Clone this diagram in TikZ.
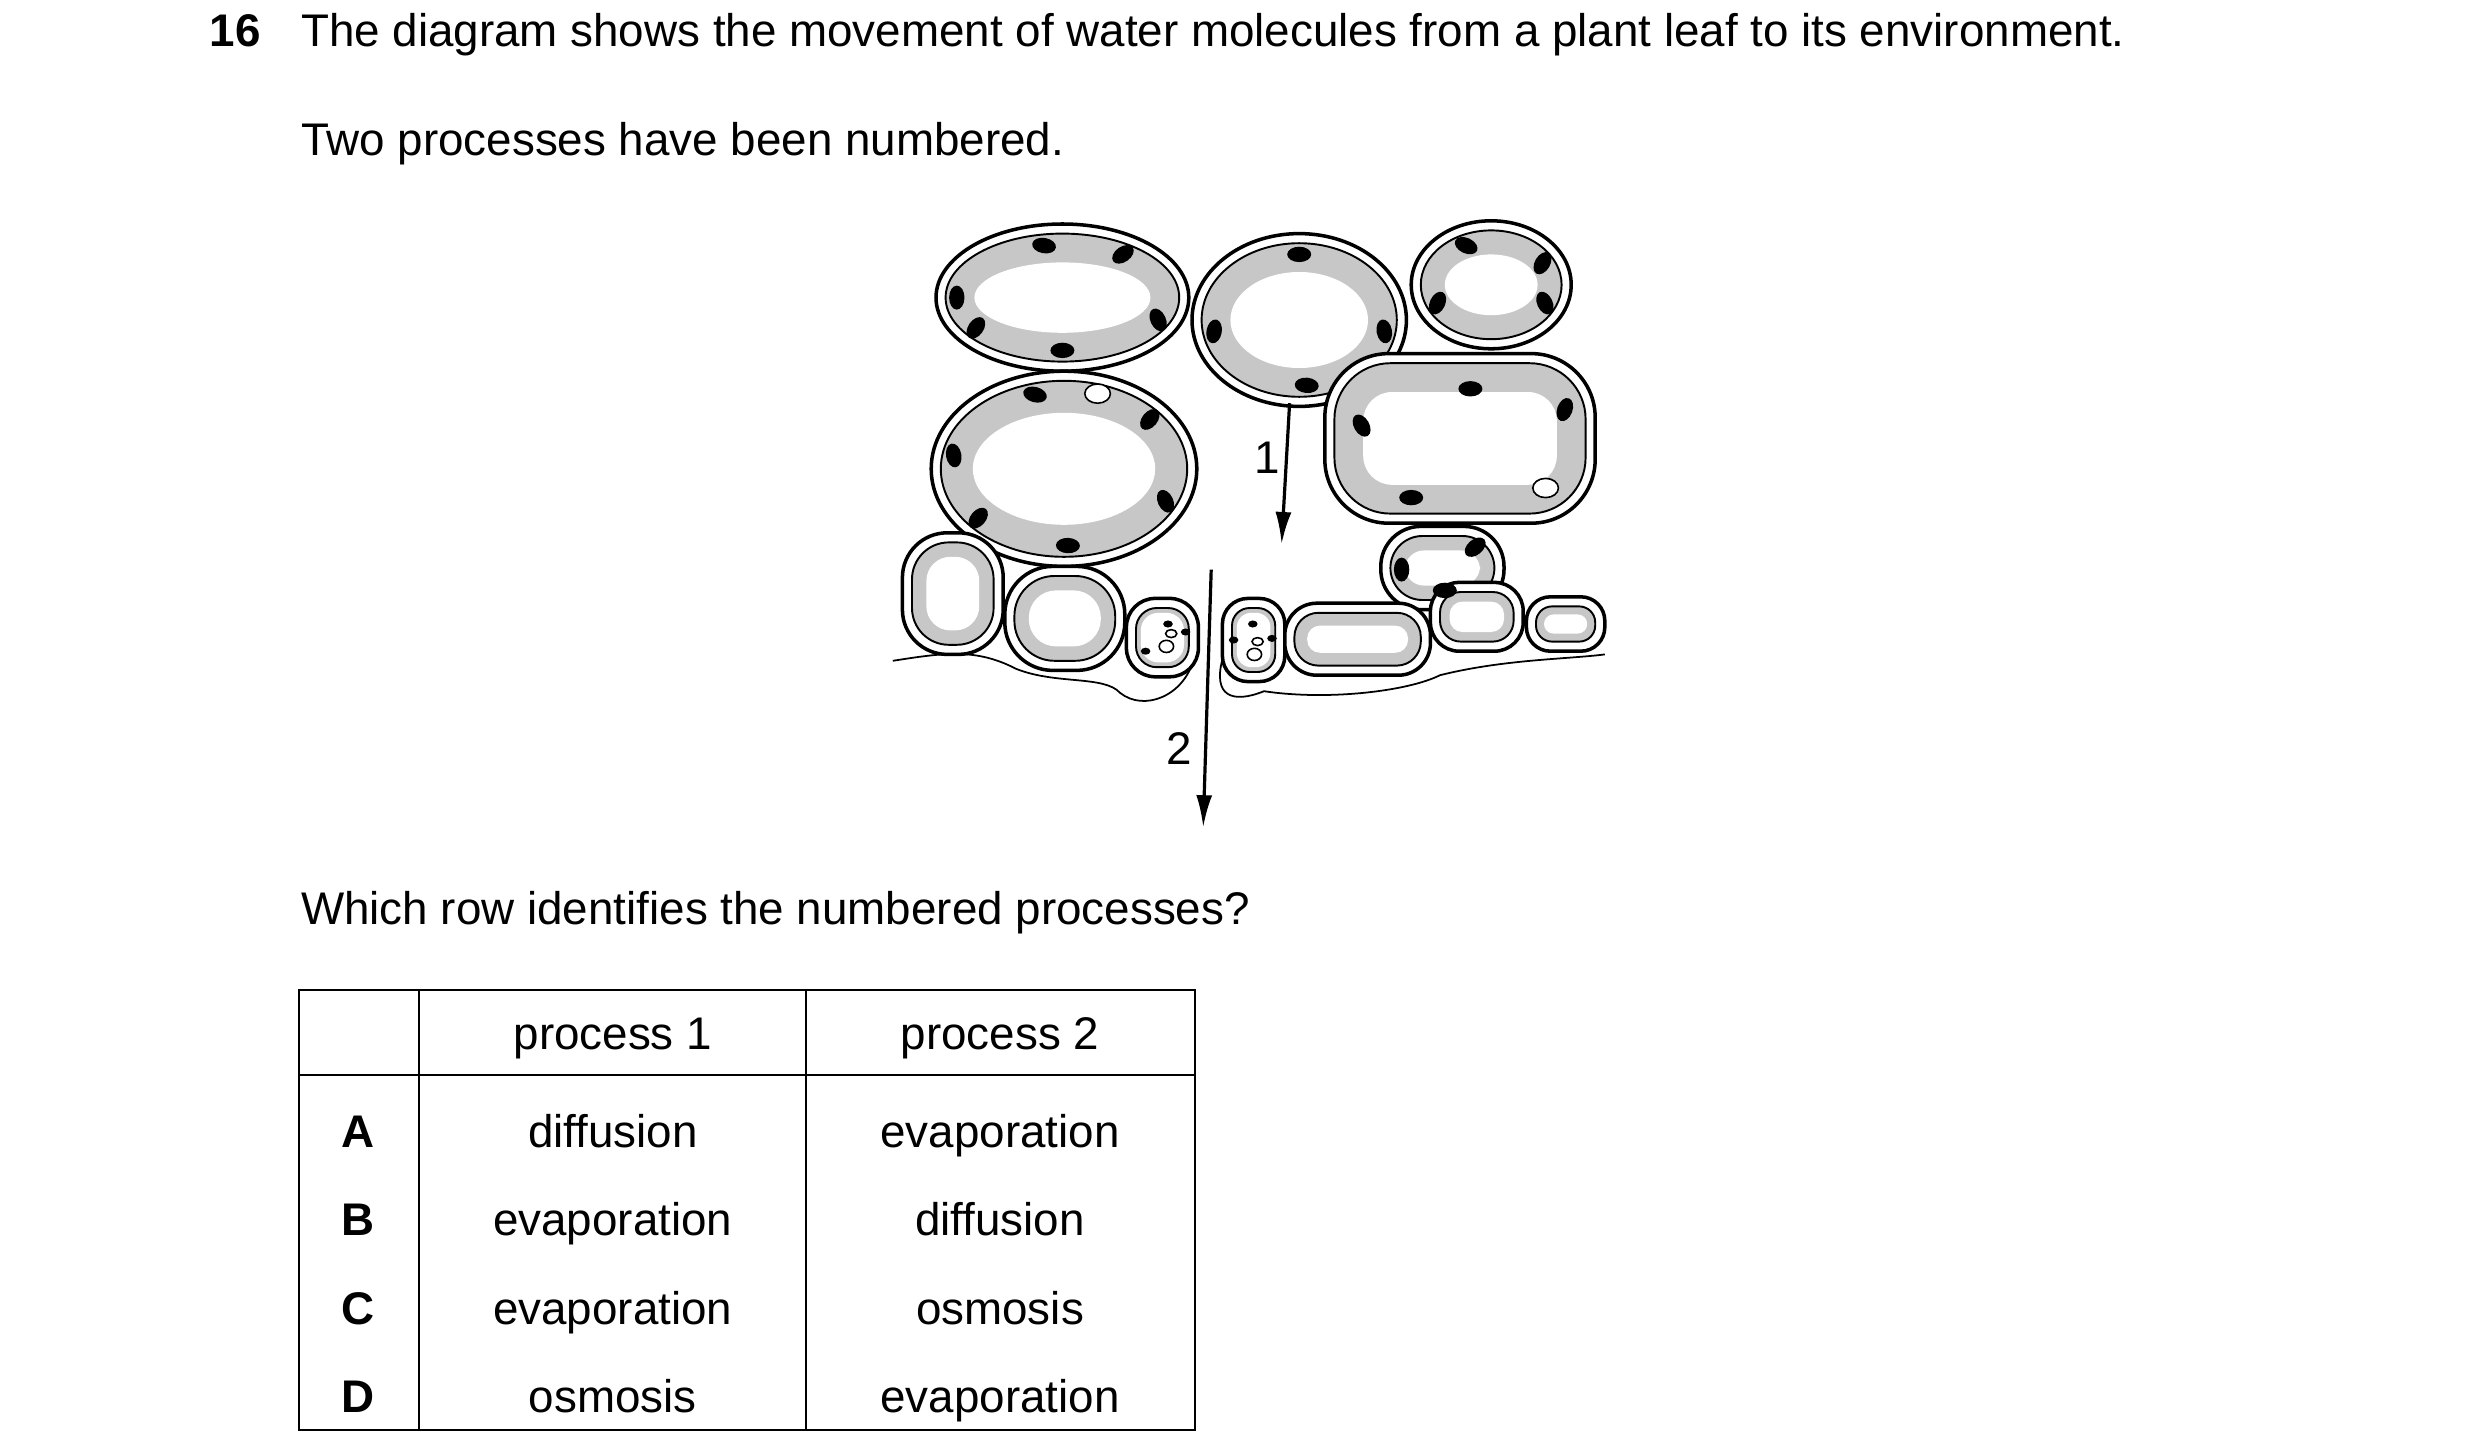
\documentclass[tikz,border=0pt]{standalone}
\usepackage{fontspec}
\setmainfont{Liberation Sans}
\usetikzlibrary{arrows.meta}
\begin{document}
\begin{tikzpicture}[x=1pt,y=-1pt,
  wall/.style={draw=black,line width=2.2pt,fill=white},
  thin/.style={draw=black,line width=1.2pt},
  txt/.style={anchor=base west,inner sep=0pt,font=\fontsize{28.6}{34}\selectfont},
  ctr/.style={anchor=base,inner sep=0pt,font=\fontsize{28.6}{34}\selectfont},
  arr/.style={draw=black,line width=2pt,-{Latex[length=20pt,width=10pt]}}]
\useasboundingbox (0,0) rectangle (1550,909.4);
\definecolor{cyto}{gray}{0.78}
\newcommand\cellr[6]{%
  \draw[wall,rounded corners=#5] (#1,#2) rectangle (#3,#4);
  \draw[thin,fill=cyto,rounded corners={#5-5}] (#1+6,#2+6) rectangle (#3-6,#4-6);
  \fill[white,rounded corners={#5-#6+2}] (#1+#6,#2+#6) rectangle (#3-#6,#4-#6);}
\newcommand\celle[5]{%
  \draw[wall] (#1,#2) ellipse ({#3} and {#4});
  \draw[thin,fill=cyto] (#1,#2) ellipse ({#3-6} and {#4-6});
  \fill[white] (#1,#2) ellipse ({#3-#5} and {#4-#5});}
\newcommand\chp[5]{\fill[black,shift={(#1,#2)},shift={(#5:{#3-13} and {#4-13})},rotate=#5+90] (0,0) ellipse (7.5 and 4.8);}
\newcommand\chl[3]{\fill[black,rotate around={#3:(#1,#2)}] (#1,#2) ellipse (7.5 and 4.8);}
\newcommand\dotc[2]{\fill[black] (#1,#2) ellipse (3 and 2.2);}
\newcommand\vac[4]{\draw[black,line width=1pt,fill=white] (#1,#2) ellipse (#3 and #4);}
% texts
\node[txt,font=\bfseries\fontsize{28.6}{34}\selectfont] (q) at (131,29) {16};
\node[txt] (t1) at (188,29) {The diagram shows the movement of water molecules from a plant leaf to its environment.};
\node[txt] (t2) at (188,97) {Two processes have been numbered.};
\node[txt] (t3) at (188,578) {Which row identifies the numbered processes?};
% cuticle
\draw[line width=1.1pt] (558,413) .. controls (590,408) and (610,405) .. (635,418) .. controls (660,428) and (690,422) .. (700,433) .. controls (715,445) and (740,435) .. (746,412);
\draw[line width=1.1pt] (764,412) .. controls (758,435) and (770,440) .. (790,432) .. controls (830,438) and (880,432) .. (900,422) .. controls (940,412) and (980,412) .. (1003,409);
% cells
\celle{664}{186}{79}{46}{24}
\celle{812}{200}{67}{54}{24}
\celle{932}{178}{50}{40}{21}
\celle{665}{293}{83}{61}{26}
\cellr{828}{221}{997}{327}{40}{24}
\cellr{863}{329}{940}{381}{25}{15}
\cellr{564}{333}{627}{409}{28}{15}
\cellr{628}{354}{703}{419}{30}{15}
\cellr{704}{374}{749}{423}{18}{9}
\cellr{764}{374}{803}{426}{16}{9}
\cellr{803}{377}{894}{422}{20}{14}
\cellr{894}{364}{952}{407}{18}{12}
\cellr{954}{373}{1003}{407}{15}{11}
% chloroplasts
\chp{664}{186}{79}{46}{-100}\chp{664}{186}{79}{46}{-55}\chp{664}{186}{79}{46}{180}\chp{664}{186}{79}{46}{145}\chp{664}{186}{79}{46}{25}\chp{664}{186}{79}{46}{90}
\chp{812}{200}{67}{54}{-90}\chp{812}{200}{67}{54}{170}\chp{812}{200}{67}{54}{10}\chp{812}{200}{67}{54}{85}
\chp{932}{178}{50}{40}{-115}\chp{932}{178}{50}{40}{-30}\chp{932}{178}{50}{40}{155}\chp{932}{178}{50}{40}{25}
\chp{665}{293}{83}{61}{-105}\chp{665}{293}{83}{61}{-40}\chp{665}{293}{83}{61}{190}\chp{665}{293}{83}{61}{140}\chp{665}{293}{83}{61}{25}\chp{665}{293}{83}{61}{88}
\vac{686}{246}{8}{6}
\chl{919}{243}{0}\chl{978}{256}{70}\chl{851}{266}{-60}\chl{882}{311}{0}\vac{966}{305}{8}{6}
\chl{922}{342}{40}\chl{876}{356}{90}\chl{903}{369}{0}
\dotc{730}{390}\dotc{741}{395}\dotc{716}{407}\vac{732}{396}{3.5}{2.5}\vac{729}{404}{4.5}{3.8}
\dotc{783}{390}\dotc{771}{400}\dotc{795}{399}\vac{786}{401}{3.5}{2.5}\vac{784}{409}{4.5}{3.8}
% arrows
\coordinate (a1s) at (806,252); \coordinate (a1e) at (801,340);
\coordinate (a2s) at (757,356); \coordinate (a2e) at (752,517);
\draw[arr] (a1s) -- (a1e);
\draw[arr] (a2s) -- (a2e);
\node[ctr] (l1) at (792,296) {1};
\node[ctr] (l2) at (737,478) {2};
% table
\draw[line width=1.3pt] (187,619) rectangle (747,894);
\draw[line width=1.3pt] (262,619) -- (262,894) (504,619) -- (504,894) (187,672) -- (747,672);
\node[ctr] (h1) at (383,656) {process 1};
\node[ctr] (h2) at (625,656) {process 2};
\foreach \l/\a/\b/\y in {A/diffusion/evaporation/717,B/evaporation/diffusion/772,C/evaporation/osmosis/828,D/osmosis/evaporation/883}{
  \node[ctr,font=\bfseries\fontsize{28.6}{34}\selectfont] (r\l) at (224,\y) {\l};
  \node[ctr] (p\l) at (383,\y) {\a};
  \node[ctr] (s\l) at (625,\y) {\b};}
\end{tikzpicture}
\end{document}
